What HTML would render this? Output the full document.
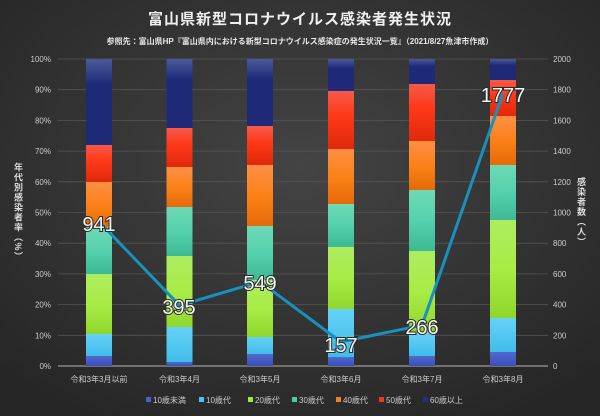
<!DOCTYPE html>
<html><head><meta charset="utf-8"><style>
html,body{margin:0;padding:0;background:#2b2b2b;}
svg{display:block;font-family:"Liberation Sans","Noto Sans CJK JP",sans-serif;}
</style></head><body>
<svg id="s" width="600" height="416" viewBox="0 0 600 416" xmlns="http://www.w3.org/2000/svg">
<defs>
<radialGradient id="bg" cx="50%" cy="40%" r="70%">
<stop offset="0" stop-color="#444"/><stop offset="1" stop-color="#262626"/></radialGradient>
<linearGradient id="g0" x1="0" y1="0" x2="0" y2="1"><stop offset="0" stop-color="#4a5a9a"/><stop offset=".3" stop-color="#1e2a78"/><stop offset="1" stop-color="#1e2a78"/></linearGradient>
<linearGradient id="g1" x1="0" y1="0" x2="0" y2="1"><stop offset="0" stop-color="#f55a4a"/><stop offset=".4" stop-color="#ff3a1a"/><stop offset="1" stop-color="#e0280a"/></linearGradient>
<linearGradient id="g2" x1="0" y1="0" x2="0" y2="1"><stop offset="0" stop-color="#ff8f45"/><stop offset=".5" stop-color="#fb8118"/><stop offset="1" stop-color="#e56a08"/></linearGradient>
<linearGradient id="g3" x1="0" y1="0" x2="0" y2="1"><stop offset="0" stop-color="#6fd9b5"/><stop offset=".5" stop-color="#55d1ad"/><stop offset="1" stop-color="#3fb894"/></linearGradient>
<linearGradient id="g4" x1="0" y1="0" x2="0" y2="1"><stop offset="0" stop-color="#aeec60"/><stop offset=".5" stop-color="#a8ec45"/><stop offset="1" stop-color="#8fd62c"/></linearGradient>
<linearGradient id="g5" x1="0" y1="0" x2="0" y2="1"><stop offset="0" stop-color="#66d2f8"/><stop offset="1" stop-color="#40bce8"/></linearGradient>
<linearGradient id="g6" x1="0" y1="0" x2="0" y2="1"><stop offset="0" stop-color="#5068d0"/><stop offset="1" stop-color="#3a50b8"/></linearGradient>
</defs>
<rect width="600" height="416" fill="url(#bg)"/>
<text x="300" y="24" text-anchor="middle" fill="#f0f0f0" font-size="15" font-weight="bold" letter-spacing="1">富山県新型コロナウイルス感染者発生状況</text>
<text x="300" y="44" text-anchor="middle" fill="#e8e8e8" font-size="8" font-weight="bold">参照先：富山県HP『富山県内における新型コロナウイルス感染症の発生状況一覧』（2021/8/27魚津市作成）</text>
<g id="grid"></g>
<g id="bars"></g>
<polyline points="99,221.6 179.5,305.4 260,281.7 341,341.9 422,325.2 503,93.2" fill="none" stroke="#1791bd" stroke-width="3" stroke-linejoin="round"/>
<g font-size="20" fill="#f6f6f6" stroke="#2a2a2a" stroke-width="2" paint-order="stroke" text-anchor="middle">
<text x="99" y="231">941</text><text x="179" y="314">395</text><text x="260" y="290">549</text>
<text x="341" y="352">157</text><text x="422" y="334">266</text><text x="503" y="102">1777</text></g>
<text transform="translate(18,212)" fill="#ddd" font-size="9" font-weight="bold" writing-mode="tb" text-anchor="middle" letter-spacing="1">年代別感染者率（%）</text>
<text transform="translate(581,212)" fill="#ddd" font-size="9" font-weight="bold" writing-mode="tb" text-anchor="middle" letter-spacing="1">感染者数（人）</text>
<g id="xl" fill="#ccc" font-size="8" text-anchor="middle"></g>
<g id="lg" font-size="8" fill="#ccc"></g>
</svg>
<script>
var NS="http://www.w3.org/2000/svg";
function el(p,t,a,tx){var e=document.createElementNS(NS,t);for(var k in a)e.setAttribute(k,a[k]);if(tx)e.textContent=tx;document.getElementById(p).appendChild(e);return e;}
var top=59,bot=366,h=307;
for(var i=0;i<=10;i++){var y=bot-h*i/10;
el("grid","line",{x1:58,x2:548,y1:y,y2:y,stroke:i==0?"#888":"#555","stroke-width":i==0?1.5:0.8});
el("grid","text",{x:51,y:y+3,"text-anchor":"end",fill:"#ccc","font-size":"8"},(i*10)+"%");
el("grid","text",{x:553,y:y+3,fill:"#ccc","font-size":"8"},String(i*200));}
var xs=[99,179.5,260,341,422,503];
var bd=[[59,145,182,227,274,334,356,366],[59,128,167,207,256,327,362,366],[59,126,165,226,280,337,354,366],[59,91,149,204,247,309,357,366],[59,84,141,190,251,333,356,366],[59,80,116,165,220,318,352,366]];
for(var b=0;b<6;b++)for(var s=0;s<7;s++){el("bars","rect",{x:xs[b]-13,y:bd[b][s],width:26,height:bd[b][s+1]-bd[b][s],fill:"url(#g"+s+")"});}
var lab=["令和3年3月以前","令和3年4月","令和3年5月","令和3年6月","令和3年7月","令和3年8月"];
for(var b=0;b<6;b++)el("xl","text",{x:xs[b],y:382},lab[b]);
var lg=["10歳未満","10歳代","20歳代","30歳代","40歳代","50歳代","60歳以上"],lc=["#4a5fc8","#4cc6f0","#a0e840","#4ccca4","#f8801a","#f03a1a","#24307e"],lx=[146,199,248,292,336,379,423];
for(var i=0;i<7;i++){el("lg","rect",{x:lx[i],y:397,width:5,height:5,fill:lc[i]});el("lg","text",{x:lx[i]+7,y:403},lg[i]);}
</script>
</body></html>
